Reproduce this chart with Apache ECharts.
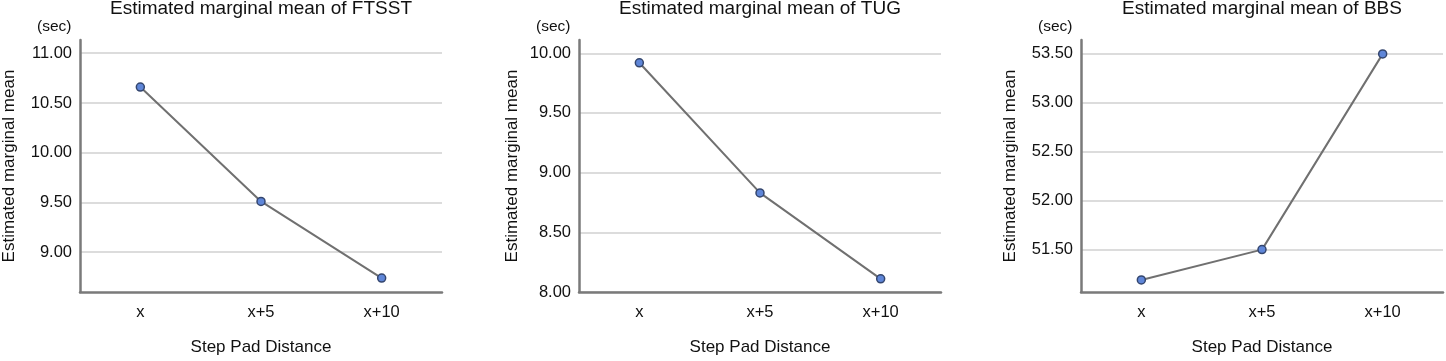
<!DOCTYPE html>
<html>
<head>
<meta charset="utf-8">
<script src="https://cdn.jsdelivr.net/npm/echarts@6/dist/echarts.min.js"></script>
<style>html,body{margin:0;padding:0;background:#fff;}#c{width:1446px;height:361px;}</style>
</head>
<body>
<div id="c"></div>
<script>
const categories = ['x', 'x+5', 'x+10'];
const titles = ['Estimated marginal mean of FTSST', 'Estimated marginal mean of TUG', 'Estimated marginal mean of BBS'];
const ftsst = [10.66, 9.51, 8.74];
const tug = [9.92, 8.83, 8.11];
const bbs = [51.19, 51.50, 53.50];
const ticksFtsst = [9.0, 9.5, 10.0, 10.5, 11.0];
const ticksTug = [8.0, 8.5, 9.0, 9.5, 10.0];
const ticksBbs = [51.5, 52.0, 52.5, 53.0, 53.5];
const rangeFtsst = [8.6, 11.133];
const rangeTug = [8.0, 10.111];
const rangeBbs = [51.067, 53.642];
const yName = 'Estimated marginal mean';
const xName = 'Step Pad Distance';
const unit = '(sec)';

const FONT = '"Liberation Sans", Arial, sans-serif';
const grids = [
  {left: 80, width: 362, top: 40, height: 253},
  {left: 579, width: 362, top: 40, height: 253},
  {left: 1081, width: 362, top: 40, height: 253}
];
const seriesData = [ftsst, tug, bbs];
const tickSets = [ticksFtsst, ticksTug, ticksBbs];
const ranges = [rangeFtsst, rangeTug, rangeBbs];
const nameGaps = [62, 58, 62];

const option = {
  animation: false,
  backgroundColor: '#fff',
  title: grids.map((g, i) => ({
    text: titles[i], left: g.left + g.width / 2, top: -1, textAlign: 'center', padding: 0,
    textStyle: {fontFamily: FONT, fontSize: 19, fontWeight: 'normal', color: '#111'}
  })),
  grid: grids.map(g => Object.assign({containLabel: false}, g)),
  xAxis: grids.map((g, i) => ({
    type: 'category', gridIndex: i, data: categories, boundaryGap: true,
    name: xName, nameLocation: 'middle', nameGap: 47,
    nameTextStyle: {fontFamily: FONT, fontSize: 17, color: '#111'},
    axisLine: {show: true, lineStyle: {color: '#7a7a7a', width: 2.5}},
    axisTick: {show: false},
    axisLabel: {fontFamily: FONT, fontSize: 16.5, color: '#111', margin: 12},
    splitLine: {show: false}
  })),
  yAxis: grids.map((g, i) => ({
    type: 'value', gridIndex: i, min: ranges[i][0], max: ranges[i][1],
    name: yName, nameLocation: 'middle', nameGap: nameGaps[i],
    nameTextStyle: {fontFamily: FONT, fontSize: 17, color: '#111'},
    axisLine: {show: true, lineStyle: {color: '#7a7a7a', width: 2.5}},
    axisTick: {show: false, customValues: tickSets[i]},
    axisLabel: {fontFamily: FONT, fontSize: 16.5, color: '#111', margin: 8,
      customValues: tickSets[i], formatter: v => v.toFixed(2)},
    splitLine: {show: true, lineStyle: {color: '#dcdcdc', width: 2}}
  })),
  graphic: grids.map(g => ({
    type: 'text', left: g.left - 43, top: 19,
    style: {text: unit, font: '15.5px ' + FONT, fill: '#111'}
  })),
  series: seriesData.map((d, i) => ({
    type: 'line', xAxisIndex: i, yAxisIndex: i, data: d,
    symbol: 'circle', symbolSize: 8,
    lineStyle: {color: '#707070', width: 2},
    itemStyle: {color: '#5f86d8', borderColor: '#34466e', borderWidth: 1.5}
  }))
};
const chart = echarts.init(document.getElementById('c'), null, {renderer: 'canvas'});
chart.setOption(option);
</script>
</body>
</html>
